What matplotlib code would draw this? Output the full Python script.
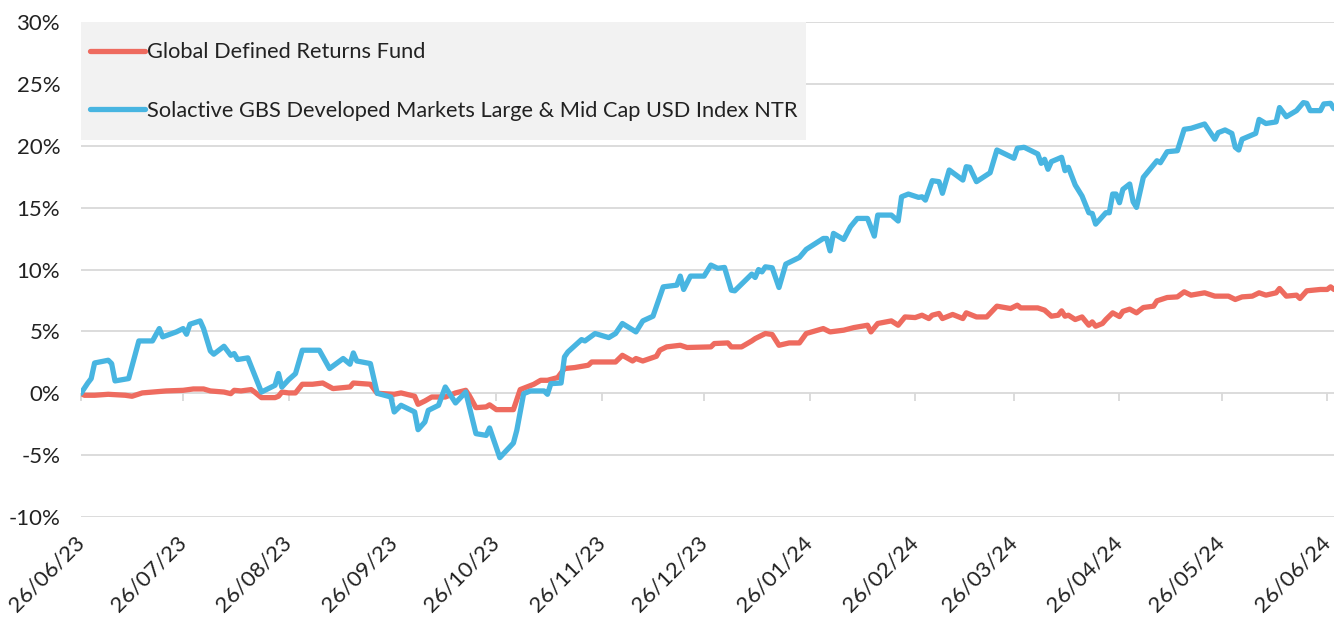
import matplotlib.pyplot as plt
import matplotlib.dates as mdates
from matplotlib.patches import Rectangle
import pandas as pd

plt.rcParams['font.family'] = ['Lato', 'DejaVu Sans']

start = pd.Timestamp('2023-06-26')

# days since 26/06/23 and cumulative return (%)
index_days = [0, 2, 3, 4, 8, 9, 10, 14, 17, 21, 23, 24, 28, 30, 31, 32, 35, 36, 38, 39,
              42, 44, 45, 46, 49, 53, 57, 58, 59, 61, 63, 65, 70, 73, 77, 79, 80, 81, 85, 87,
              91, 92, 94, 98, 99, 101, 102, 105, 107, 110, 113, 116, 119, 120, 123, 127, 128, 130, 132, 136,
              137, 138, 141, 142, 143, 147, 148, 151, 155, 157, 159, 163, 165, 168, 171, 175, 176, 177, 179, 183,
              185, 187, 189, 191, 192, 197, 198, 199, 200, 201, 203, 205, 207, 211, 213, 218, 219, 220, 221, 224,
              226, 228, 231, 233, 234, 238, 240, 241, 243, 246, 247, 248, 250, 252, 253, 255, 259, 260, 261, 263,
              267, 269, 274, 275, 277, 281, 282, 283, 284, 285, 288, 289, 290, 292, 294, 296, 297, 298, 301, 302,
              303, 304, 305, 306, 308, 309, 310, 312, 316, 317, 319, 322, 324, 326, 330, 333, 334, 336, 338, 339,
              340, 341, 345, 346, 348, 351, 352, 354, 357, 359, 360, 361, 364, 365, 367, 368]
index_vals = [0.0, 0.83, 1.19, 2.45, 2.67, 2.40, 1.0, 1.19, 4.23, 4.23, 5.23, 4.56, 4.96, 5.23, 4.77, 5.58, 5.85, 5.23, 3.42, 3.16,
              3.80, 3.07, 3.21, 2.73, 2.86, 0.1, 0.65, 1.6, 0.5, 1.1, 1.59, 3.48, 3.48, 2.0, 2.81, 2.35, 3.26, 2.61, 2.40, 0.0,
              -0.3, -1.51, -0.97, -1.51, -2.94, -2.32, -1.38, -0.97, 0.51, -0.78, 0.1, -3.26, -3.4, -2.8, -5.2, -4.02, -2.99, -0.03, 0.19, 0.19,
              -0.08, 0.78, 0.83, 2.94, 3.34, 4.34, 4.23, 4.83, 4.5, 4.83, 5.64, 4.96, 5.85, 6.23, 8.6, 8.74, 9.47, 8.39, 9.47, 9.47,
              10.36, 10.1, 10.17, 8.33, 8.28, 9.63, 9.36, 10.0, 9.81, 10.22, 10.14, 8.55, 10.44, 10.98, 11.63, 12.51, 12.51, 11.51, 12.92, 12.43,
              13.46, 14.13, 14.13, 12.70, 14.40, 14.40, 13.92, 15.88, 16.10, 15.83, 15.88, 15.61, 17.18, 17.10, 16.16, 18.04, 17.23, 18.31, 18.26, 17.10,
              17.82, 19.66, 18.99, 19.80, 19.88, 19.34, 18.58, 18.91, 18.10, 18.72, 19.07, 17.99, 18.26, 16.83, 15.94, 14.59, 14.53, 13.67, 14.59, 14.59,
              16.10, 16.10, 15.40, 16.48, 16.91, 15.48, 15.02, 17.45, 18.79, 18.63, 19.52, 19.60, 21.33, 21.41, 21.76, 20.53, 21.06, 21.28, 21.0, 19.88,
              19.66, 20.53, 21.0, 22.13, 21.80, 21.93, 23.09, 22.35, 22.84, 23.49, 23.43, 22.84, 22.84, 23.38, 23.43, 23.0]

fund_days = [0, 1, 4, 8, 13, 15, 18, 25, 30, 33, 36, 38, 42, 44, 45, 47, 50, 51, 53, 57,
             58, 59, 61, 63, 65, 68, 71, 74, 79, 80, 85, 87, 92, 94, 98, 99, 101, 103, 107, 110,
             113, 114, 116, 119, 120, 122, 127, 129, 133, 135, 137, 140, 142, 145, 149, 150, 157, 159, 162, 163,
             165, 169, 170, 172, 176, 178, 185, 186, 190, 191, 194, 197, 198, 201, 203, 205, 208, 211, 213, 218,
             220, 224, 227, 231, 232, 234, 238, 240, 242, 245, 247, 249, 250, 252, 253, 256, 259, 260, 263, 266,
             269, 273, 275, 276, 281, 283, 285, 287, 288, 289, 290, 292, 294, 296, 297, 298, 300, 301, 303, 305,
             306, 308, 310, 312, 315, 316, 319, 322, 324, 326, 330, 333, 337, 339, 341, 344, 346, 348, 351, 352,
             354, 357, 358, 360, 364, 366, 367, 368]
fund_vals = [0.0, -0.16, -0.16, -0.08, -0.16, -0.24, 0.03, 0.19, 0.24, 0.35, 0.35, 0.19, 0.1, -0.03, 0.24, 0.19, 0.3, 0.1, -0.35, -0.35,
             -0.24, 0.1, 0.03, 0.03, 0.73, 0.73, 0.83, 0.38, 0.51, 0.83, 0.73, 0.0, -0.08, 0.03, -0.24, -0.89, -0.62, -0.3, -0.3, 0.03,
             0.24, -0.16, -1.16, -1.1, -0.93, -1.32, -1.32, 0.3, 0.73, 1.05, 1.05, 1.27, 2.0, 2.08, 2.27, 2.53, 2.53, 3.07, 2.61, 2.81,
             2.61, 2.99, 3.48, 3.75, 3.88, 3.70, 3.75, 4.02, 4.07, 3.75, 3.75, 4.23, 4.42, 4.83, 4.75, 3.88, 4.07, 4.07, 4.83, 5.23,
             4.96, 5.10, 5.31, 5.50, 4.96, 5.64, 5.85, 5.50, 6.17, 6.12, 6.31, 6.04, 6.31, 6.45, 6.04, 6.37, 6.04, 6.50, 6.17, 6.17,
             7.04, 6.85, 7.12, 6.90, 6.90, 6.72, 6.23, 6.31, 6.66, 6.23, 6.31, 5.96, 6.17, 5.50, 5.77, 5.42, 5.64, 5.96, 6.50, 6.20,
             6.62, 6.80, 6.50, 6.93, 7.04, 7.47, 7.74, 7.79, 8.20, 7.93, 8.12, 7.85, 7.85, 7.58, 7.79, 7.85, 8.12, 7.93, 8.12, 8.47,
             7.85, 7.93, 7.66, 8.28, 8.39, 8.39, 8.6, 8.39]

tick_labels = ['26/06/23', '26/07/23', '26/08/23', '26/09/23', '26/10/23', '26/11/23', '26/12/23',
               '26/01/24', '26/02/24', '26/03/24', '26/04/24', '26/05/24', '26/06/24']
y_ticks = [-10, -5, 0, 5, 10, 15, 20, 25, 30]

fund_name = 'Global Defined Returns Fund'
index_name = 'Solactive GBS Developed Markets Large & Mid Cap USD Index NTR'

red = '#ee6b5f'
blue = '#48b5e1'
grid = '#d9d9d9'

index_dates = start + pd.to_timedelta(index_days, unit='D')
fund_dates = start + pd.to_timedelta(fund_days, unit='D')
tick_dates = pd.to_datetime(tick_labels, format='%d/%m/%y')

fig = plt.figure(figsize=(13.34, 6.17), dpi=100)
ax = fig.add_axes([0.0607, 0.162, 0.9393, 0.8023])

ax.plot(fund_dates, fund_vals, color=red, lw=3.8, label=fund_name,
        solid_capstyle='round', solid_joinstyle='round', zorder=3)
ax.plot(index_dates, index_vals, color=blue, lw=3.8, label=index_name,
        solid_capstyle='round', solid_joinstyle='round', zorder=3)

ax.set_ylim(-10, 30)
ax.set_xlim(index_dates[0], index_dates[-1])
ax.set_yticks(y_ticks)
ax.set_yticklabels([f'{v}%' for v in y_ticks])
ax.set_xticks(tick_dates)
ax.set_xticklabels(tick_labels, rotation=45, ha='right', va='center', rotation_mode='anchor')

ax.grid(axis='y', color=grid, lw=1.3)
ax.set_axisbelow(True)
for s in ax.spines.values():
    s.set_visible(False)
ax.tick_params(axis='both', length=0, labelsize=16, colors='#222222')
ax.tick_params(axis='y', pad=15)
ax.tick_params(axis='x', pad=16)

# small tick marks hanging from the zero line
sec = ax.secondary_xaxis(0, transform=ax.transData)
sec.set_xticks(mdates.date2num(tick_dates))
sec.tick_params(direction='out', length=6, width=1.3, color=grid, labelbottom=False)
sec.spines['bottom'].set_visible(False)

# grey legend panel
ax.add_patch(Rectangle((0, 0.7616), 0.5786, 0.2384, transform=ax.transAxes,
                       facecolor='#f2f2f2', edgecolor='none', zorder=4))

leg = ax.legend(loc='upper left', bbox_to_anchor=(0, 0.977), frameon=False,
                fontsize=15.7, handlelength=2.55, handletextpad=0.1, labelspacing=1.78,
                borderpad=0.4, borderaxespad=0, labelcolor='#222222')
leg.set_zorder(5)
for line in leg.get_lines():
    line.set_linewidth(3.8)
    line.set_solid_capstyle('round')

fig.savefig('out.png', dpi=100)
